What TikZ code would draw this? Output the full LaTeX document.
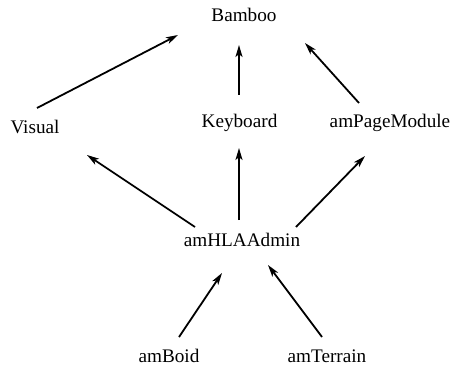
\documentclass[tikz,border=0pt]{standalone}
\usepackage{fontspec}
\setmainfont{Liberation Serif}
\usetikzlibrary{arrows.meta,calc}
\tikzset{
  lbl/.style={anchor=base,inner sep=0pt,font=\fontsize{19.2}{23}\selectfont},
  edge/.style={line width=1.8pt,-{Stealth[length=12pt,width=7pt,inset=3pt]}}
}
\begin{document}
\begin{tikzpicture}[x=1pt,y=-1pt]
\useasboundingbox (0,0) rectangle (453,369);
\node[lbl] (Bamboo) at (244,22) {Bamboo};
\node[lbl] (Visual) at (35,133) {Visual};
\node[lbl] (Keyboard) at (239.5,128) {Keyboard};
\node[lbl] (amPageModule) at (390,128) {amPageModule};
\node[lbl] (amHLAAdmin) at (242,246) {amHLAAdmin};
\node[lbl] (amBoid) at (169,362) {amBoid};
\node[lbl] (amTerrain) at (327,362) {amTerrain};
\draw[edge] ($(Visual.base)+(2,-25)$) -- ($(Bamboo.base)+(-66,13)$);
\draw[edge] ($(Keyboard.base)+(-0.5,-33)$) -- ($(Bamboo.base)+(-5,23)$);
\draw[edge] ($(amPageModule.base)+(-31,-25)$) -- ($(Bamboo.base)+(61,21)$);
\draw[edge] ($(amHLAAdmin.base)+(-47,-19)$) -- ($(Visual.base)+(52,22)$);
\draw[edge] ($(amHLAAdmin.base)+(-3,-26)$) -- ($(Keyboard.base)+(-0.5,20)$);
\draw[edge] ($(amHLAAdmin.base)+(54,-19)$) -- ($(amPageModule.base)+(-25,28)$);
\draw[edge] ($(amBoid.base)+(10,-25)$) -- ($(amHLAAdmin.base)+(-20,27)$);
\draw[edge] ($(amTerrain.base)+(-5,-25)$) -- ($(amHLAAdmin.base)+(26,19)$);
\end{tikzpicture}
\end{document}
